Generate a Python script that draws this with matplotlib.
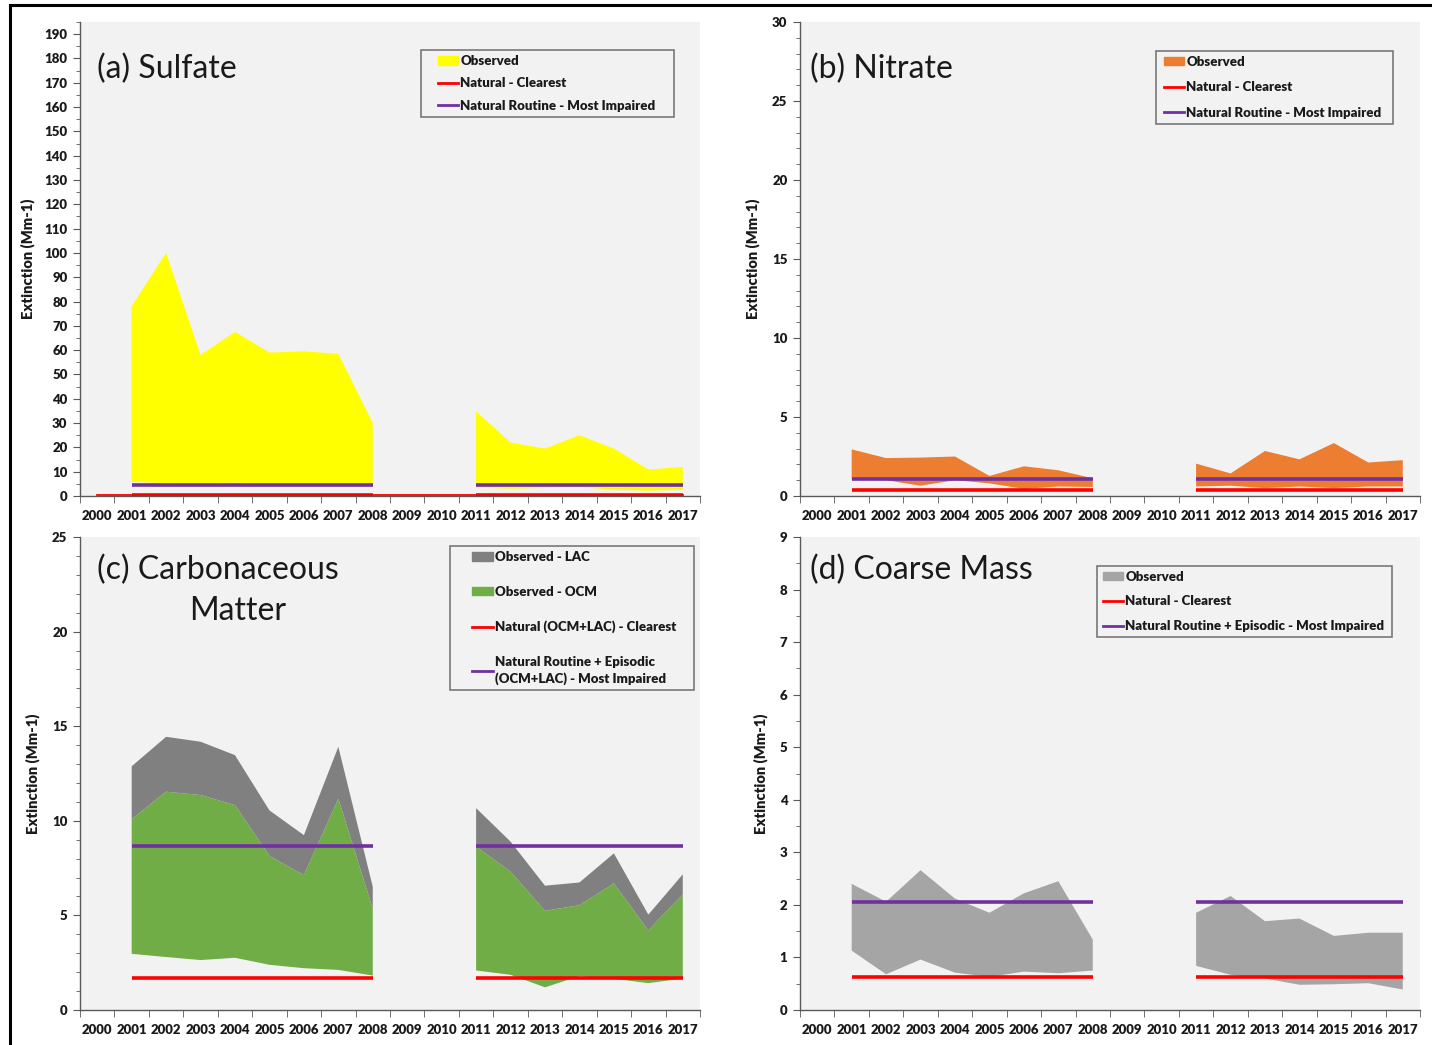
import numpy as np
import matplotlib.pyplot as plt
from matplotlib.patches import Patch
from matplotlib.lines import Line2D
from matplotlib.legend_handler import HandlerLine2D, HandlerPatch
from matplotlib.ticker import MultipleLocator, FixedLocator

plt.rcParams['font.family'] = ['Lato', 'DejaVu Sans']

nan = np.nan
years = [str(y) for y in range(2000, 2018)]

# (a) sulfate, observed band (lower / upper)
sulf_hi = [nan, 78, 100, 58, 67.5, 59, 59.5, 58.5, 30, nan, nan, 34.8, 22, 19.5, 25, 19.5, 10.9, 11.9]
sulf_lo = [nan, 5.8, 5.3, 4.8, 5.5, 4.8, 4.8, 4.8, 4.8, nan, nan, 3.4, 3.0, 3.3, 3.6, 2.6, 2.2, 2.6]
sulf_clear = [0.4] * 18
sulf_impaired = [nan, 4.4, 4.4, 4.4, 4.4, 4.4, 4.4, 4.4, 4.4, nan, nan, 4.4, 4.4, 4.4, 4.4, 4.4, 4.4, 4.4]

# (b) nitrate
nitr_hi = [nan, 2.95, 2.4, 2.43, 2.5, 1.27, 1.88, 1.63, 1.12, nan, nan, 2.05, 1.43, 2.85, 2.32, 3.35, 2.12, 2.27]
nitr_lo = [nan, 1.05, 1.0, 0.65, 1.0, 0.8, 0.45, 0.6, 0.57, nan, nan, 0.6, 0.65, 0.5, 0.6, 0.5, 0.6, 0.6]
nitr_clear = [nan, 0.39, 0.39, 0.39, 0.39, 0.39, 0.39, 0.39, 0.39, nan, nan, 0.39, 0.39, 0.39, 0.39, 0.39, 0.39, 0.39]
nitr_impaired = [nan, 1.08, 1.08, 1.08, 1.08, 1.08, 1.08, 1.08, 1.08, nan, nan, 1.08, 1.08, 1.08, 1.08, 1.08, 1.08, 1.08]

# (c) carbonaceous: OCM band (lo -> ocm top), LAC stacked on top
carb_lo = [nan, 2.97, 2.8, 2.64, 2.76, 2.39, 2.21, 2.12, 1.82, nan, nan, 2.09, 1.86, 1.2, 1.79, 1.65, 1.42, 1.66]
carb_ocm = [nan, 10.09, 11.54, 11.36, 10.83, 8.14, 7.13, 11.17, 5.36, nan, nan, 8.64, 7.31, 5.24, 5.54, 6.69, 4.21, 6.11]
carb_total = [nan, 12.88, 14.44, 14.18, 13.47, 10.55, 9.24, 13.91, 6.51, nan, nan, 10.67, 8.9, 6.57, 6.74, 8.28, 5.04, 7.17]
carb_clear = [nan, 1.67, 1.67, 1.67, 1.67, 1.67, 1.67, 1.67, 1.67, nan, nan, 1.67, 1.67, 1.67, 1.67, 1.67, 1.67, 1.67]
carb_impaired = [nan, 8.67, 8.67, 8.67, 8.67, 8.67, 8.67, 8.67, 8.67, nan, nan, 8.67, 8.67, 8.67, 8.67, 8.67, 8.67, 8.67]

# (d) coarse mass
cm_hi = [nan, 2.4, 2.06, 2.66, 2.12, 1.85, 2.22, 2.45, 1.34, nan, nan, 1.85, 2.17, 1.69, 1.74, 1.41, 1.47, 1.47]
cm_lo = [nan, 1.13, 0.68, 0.96, 0.71, 0.63, 0.73, 0.7, 0.75, nan, nan, 0.84, 0.67, 0.6, 0.48, 0.49, 0.51, 0.39]
cm_clear = [nan, 0.62, 0.62, 0.62, 0.62, 0.62, 0.62, 0.62, 0.62, nan, nan, 0.62, 0.62, 0.62, 0.62, 0.62, 0.62, 0.62]
cm_impaired = [nan, 2.05, 2.05, 2.05, 2.05, 2.05, 2.05, 2.05, 2.05, nan, nan, 2.05, 2.05, 2.05, 2.05, 2.05, 2.05, 2.05]

RED = '#ff0000'
PURPLE = '#7030a0'
BG = '#f2f2f2'
AXC = '#595959'
TXT = '#1a1a1a'
WT = 'heavy'

W, H = 1432, 1045
fig = plt.figure(figsize=(W / 100, H / 100), dpi=100)
fig.patch.set_facecolor('white')

x = np.arange(len(years))


def make_ax(left, top, right, bottom, ymax, major, minor, ylab_x, yticks=None):
    ax = fig.add_axes([left / W, 1 - bottom / H, (right - left) / W, (bottom - top) / H])
    ax.set_facecolor(BG)
    for s in ['top', 'right']:
        ax.spines[s].set_visible(False)
    for s in ['left', 'bottom']:
        ax.spines[s].set_color(AXC)
        ax.spines[s].set_linewidth(1.0)
    ax.set_xlim(-0.5, len(years) - 0.5)
    ax.set_ylim(0, ymax)
    ax.xaxis.set_major_locator(FixedLocator(x))
    ax.set_xticklabels(years)
    ax.xaxis.set_minor_locator(FixedLocator(np.arange(-0.5, len(years), 1.0)))
    if yticks is None:
        ax.yaxis.set_major_locator(MultipleLocator(major))
    else:
        ax.yaxis.set_major_locator(FixedLocator(yticks))
    ax.yaxis.set_minor_locator(MultipleLocator(minor))
    ax.tick_params(axis='x', which='major', length=0, pad=10)
    ax.tick_params(axis='x', which='minor', length=5, color=AXC, direction='out')
    ax.tick_params(axis='y', which='both', color=AXC, direction='out')
    ax.tick_params(axis='y', which='major', length=5, pad=4)
    ax.tick_params(axis='y', which='minor', length=3)
    ax.tick_params(labelsize=9.5, labelcolor=TXT)
    for lab in ax.get_xticklabels() + ax.get_yticklabels():
        lab.set_fontweight(WT)
    ax.set_ylabel('Extinction (Mm-1)', fontsize=10.5, fontweight=WT, color=TXT)
    ax.yaxis.set_label_coords(ylab_x, 0.5)
    return ax


def leg(ax, handles, labels, left, top, width, spacing, lpad_px):
    fs = 9.5
    fpx = fs * 100 / 72
    xpad = max(lpad_px - 5.0, 0) / fpx
    hmap = {Line2D: HandlerLine2D(xpad=xpad), Patch: HandlerPatch(xpad=xpad)}
    lg = ax.legend(handles, labels, loc='upper left', bbox_to_anchor=(left, top, width, 0),
                   mode='expand', borderaxespad=0, handler_map=hmap,
                   frameon=True, fancybox=False, facecolor=BG, edgecolor=AXC,
                   prop={'weight': WT, 'size': fs}, handlelength=1.55 + xpad, handleheight=0.6,
                   handletextpad=0.15, labelspacing=spacing, borderpad=0.38)
    lg.get_frame().set_linewidth(1.2)
    for t in lg.get_texts():
        t.set_color(TXT)
        t.set_linespacing(1.45)
    return lg


def lines(ax, clear, impaired):
    ax.plot(x, clear, color=RED, lw=2.6, solid_capstyle='butt', zorder=3)
    ax.plot(x, impaired, color=PURPLE, lw=2.6, solid_capstyle='butt', zorder=3)


def title(ax, s, xx, yy, ha='left'):
    ax.text(xx, yy, s, transform=ax.transAxes, fontsize=23, va='center', ha=ha, color=TXT)


# (a) Sulfate
ax = make_ax(80, 22, 700, 496, 195, 10, 5, -0.0726, yticks=np.arange(0, 191, 10))
ax.fill_between(x, sulf_lo, sulf_hi, color='#ffff00', lw=0, zorder=2)
ax.plot(x, sulf_clear, color=RED, lw=1.3, zorder=2)
sc = np.where(np.isnan(sulf_impaired), nan, sulf_clear)
lines(ax, sc, sulf_impaired)
title(ax, '(a) Sulfate', 0.027, 0.9)
leg(ax, [Patch(color='#ffff00'), Line2D([], [], color=RED, lw=2), Line2D([], [], color=PURPLE, lw=2)],
    ['Observed', 'Natural - Clearest', 'Natural Routine - Most Impaired'],
    0.55, 0.941, 0.408, 0.78, 17)

# (b) Nitrate
ax = make_ax(800, 22, 1420, 496, 30, 5, 1, -0.0645)
ax.fill_between(x, nitr_lo, nitr_hi, color='#ed7d31', lw=0, zorder=2)
lines(ax, nitr_clear, nitr_impaired)
title(ax, '(b) Nitrate', 0.016, 0.9)
leg(ax, [Patch(color='#ed7d31'), Line2D([], [], color=RED, lw=2), Line2D([], [], color=PURPLE, lw=2)],
    ['Observed', 'Natural - Clearest', 'Natural Routine - Most Impaired'],
    0.574, 0.939, 0.382, 1.02, 8)

# (c) Carbonaceous Matter
ax = make_ax(80, 537, 700, 1010, 25, 5, 1, -0.0645)
ax.fill_between(x, carb_lo, carb_ocm, color='#70ad47', lw=0, zorder=2)
ax.fill_between(x, carb_ocm, carb_total, color='#808080', lw=0, zorder=2)
lines(ax, carb_clear, carb_impaired)
title(ax, '(c) Carbonaceous', 0.027, 0.93)
title(ax, 'Matter', 0.255, 0.843, ha='center')
leg(ax, [Patch(color='#808080'), Patch(color='#70ad47'), Line2D([], [], color=RED, lw=2),
         Line2D([], [], color=PURPLE, lw=2)],
    ['Observed - LAC', 'Observed - OCM', 'Natural (OCM+LAC) - Clearest',
     'Natural Routine + Episodic\n(OCM+LAC) - Most Impaired'],
    0.597, 0.981, 0.394, 1.72, 22)

# (d) Coarse Mass
ax = make_ax(800, 537, 1420, 1010, 9, 1, 0.5, -0.0516)
ax.fill_between(x, cm_lo, cm_hi, color='#a5a5a5', lw=0, zorder=2)
lines(ax, cm_clear, cm_impaired)
title(ax, '(d) Coarse Mass', 0.016, 0.93)
leg(ax, [Patch(color='#a5a5a5'), Line2D([], [], color=RED, lw=2), Line2D([], [], color=PURPLE, lw=2)],
    ['Observed', 'Natural - Clearest', 'Natural Routine + Episodic - Most Impaired'],
    0.479, 0.939, 0.476, 0.95, 6)

# outer frame (top and left edges visible)
fig.add_artist(Line2D([10 / W, 10 / W], [0, 1 - 5 / H], color='black', lw=2.2, transform=fig.transFigure))
fig.add_artist(Line2D([10 / W, 1], [1 - 5 / H, 1 - 5 / H], color='black', lw=2.2, transform=fig.transFigure))

fig.savefig('out.png', dpi=100)
